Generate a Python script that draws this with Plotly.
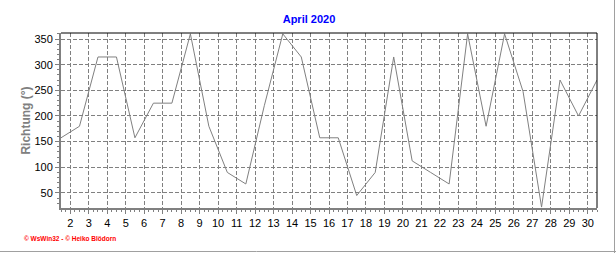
import plotly.graph_objects as go

# Data: daily wind direction, April 2020 (plotted at mid-day)
days = list(range(1, 31))
richtung = [157.5, 180, 315, 315, 157.5, 225, 225, 360, 180, 90,
            67.5, 220, 360, 315, 157.5, 157.5, 45, 90, 315, 112.5,
            90, 67.5, 360, 180, 360, 247.5, 22.5, 270, 200, 270]
x_ticks = list(range(2, 31))
y_ticks = [50, 100, 150, 200, 250, 300, 350]

title_text = "April 2020"
y_title = "Richtung (°)"
footer = "© WsWin32 - © Heiko Blödorn"

x_vals = [d + 0.5 for d in days]

fig = go.Figure()
fig.add_trace(go.Scatter(x=x_vals, y=richtung, mode="lines",
                         line=dict(color="#808080", width=1),
                         hoverinfo="skip", showlegend=False))

W, H = 616, 253
L, R, T, B = 61, 19, 33, 45
pw, ph = W - L - R, H - T - B

grid = dict(gridcolor="#808080", gridwidth=1, griddash="4px,2px")

fig.update_layout(
    width=W, height=H,
    margin=dict(l=L, r=R, t=T, b=B, pad=0),
    paper_bgcolor="white", plot_bgcolor="white",
    font=dict(family="Liberation Sans, Arial, sans-serif", size=11, color="black"),
    title=dict(text="<b>" + title_text + "</b>", x=(309 - L) / pw, xref="paper",
               xanchor="center", y=1 - 19 / H, yanchor="middle",
               font=dict(size=11, color="#0000ff", family="Liberation Sans, Arial, sans-serif")),
    xaxis=dict(range=[1.5, 30.5], tickmode="array", tickvals=x_ticks,
               ticktext=[str(t) for t in x_ticks],
               showline=True, linecolor="#808080", linewidth=2,
               ticks="outside", ticklen=4, tickcolor="#808080", tickwidth=1,
               showgrid=True, zeroline=False,
               minor=dict(dtick=0.25, tick0=1.5, ticks="outside", ticklen=2,
                          tickcolor="#808080", showgrid=False),
               tickfont=dict(size=11, color="black"),
               **grid),
    yaxis=dict(range=[20.7, 361.7], tickmode="array", tickvals=y_ticks,
               showline=True, linecolor="#808080", linewidth=2,
               ticks="outside", ticklen=4, tickcolor="#808080", tickwidth=1,
               showgrid=True, zeroline=False,
               minor=dict(dtick=10, tick0=0, ticks="outside", ticklen=2,
                          tickcolor="#808080", showgrid=False),
               tickfont=dict(size=11, color="black"),
               title=dict(text="<b>" + y_title + "</b>", standoff=1,
                          font=dict(size=12, color="#808080")),
               **grid),
    shapes=[
        dict(type="line", xref="paper", yref="paper", x0=0, x1=1, y0=1, y1=1,
             line=dict(color="black", width=1)),
        dict(type="line", xref="paper", yref="paper", x0=1, x1=1, y0=0, y1=1,
             line=dict(color="black", width=1)),
        dict(type="line", xref="paper", yref="paper",
             x0=-L / pw, x1=(W - L) / pw, y0=-(251.5 - (H - B)) / ph, y1=-(251.5 - (H - B)) / ph,
             line=dict(color="#a0a0a0", width=1)),
        dict(type="line", xref="paper", yref="paper",
             x0=(614.5 - L) / pw, x1=(614.5 - L) / pw, y0=-(H - T - ph) / ph - 0.01, y1=(T + ph) / ph,
             line=dict(color="#a0a0a0", width=1)),
    ],
    annotations=[
        dict(text="<b>" + footer + "</b>", xref="paper", yref="paper",
             x=(22 - L) / pw, xanchor="left",
             y=-(238 - (H - B)) / ph, yanchor="middle",
             showarrow=False, font=dict(size=6.5, color="#ff0000"))
    ],
)

fig.write_html("out.html")
